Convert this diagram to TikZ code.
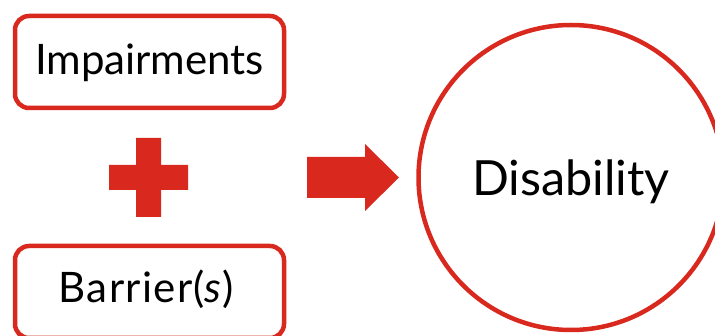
\documentclass[tikz,border=0pt]{standalone}
\usepackage{fontspec}
\setmainfont{Lato}
\definecolor{dred}{RGB}{217,41,31}
\begin{document}
\begin{tikzpicture}[x=1pt,y=-1pt,
  box/.style={draw=dred,line width=4.5pt,rounded corners=14pt,fill=white,
    minimum width=269pt,minimum height=92pt,inner sep=0pt,
    text height=30pt,text depth=4pt,font=\fontsize{42}{50}\selectfont},
  bigcircle/.style={draw=dred,line width=4.5pt,circle,minimum size=305pt,inner sep=0pt,
    text height=38pt,text depth=2pt,font=\fontsize{48.5}{58}\selectfont}]
\useasboundingbox (0,0) rectangle (715,336);
\node[box] (imp) at (149.5,62) {Impairments};
\node[box,text depth=8pt] (bar) at (149.5,292) {\addfontfeature{LetterSpace=3}Barrier(\textit{s})\hspace*{6pt}};
\node[bigcircle] (dis) at (571,177.5) {Disability};
\fill[dred] (136,138) -- (161,138) -- (161,165) -- (188,165) -- (188,190) -- (161,190)
  -- (161,217) -- (136,217) -- (136,190) -- (109,190) -- (109,165) -- (136,165) -- cycle;
\fill[dred] (307,157) -- (365,157) -- (365,144) -- (399,177.5) -- (365,211) -- (365,198)
  -- (307,198) -- cycle;
\end{tikzpicture}
\end{document}
